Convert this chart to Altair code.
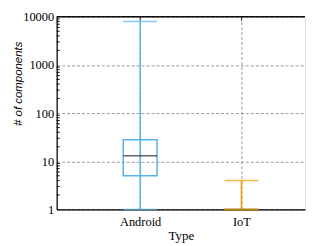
import altair as alt
import pandas as pd

types = ["Android", "IoT"]
lo = [1, 1]
q1 = [5, 1]
med = [13, 1]
q3 = [28, 1]
hi = [8000, 4]
colors = ["#56B4E9", "#E69F00"]

major_ticks = [1, 10, 100, 1000, 10000]
minor_ticks = [m * d for d in [1, 10, 100, 1000] for m in [2, 3, 4, 5, 6, 7, 8, 9]]

df = pd.DataFrame({"Type": types, "lo": lo, "q1": q1, "med": med, "q3": q3, "hi": hi})
minor_df = pd.DataFrame({"v": minor_ticks})

W, H = 250, 194
BOX = 34

xs = alt.X("Type:N", scale=alt.Scale(type="point", padding=0.7255, align=0.5676, domain=types),
           axis=alt.Axis(title="Type", labelFont="Liberation Serif", labelFontSize=12.5,
                         labelColor="#000", labelPadding=6, labelAngle=0, ticks=False,
                         domain=True, domainColor="#000", domainWidth=1.2,
                         grid=True, gridDash=[3, 2], gridColor="#999",
                         titleFont="Liberation Serif", titleFontSize=13,
                         titleFontWeight="normal", titleColor="#000", titlePadding=2))
ysc = alt.Scale(type="log", domain=[1, 10000], nice=False)
col = alt.Color("Type:N", scale=alt.Scale(domain=types, range=colors), legend=None)

base = alt.Chart(df)

whisk = base.mark_rule(strokeWidth=1.5).encode(
    x=xs,
    y=alt.Y("lo:Q", scale=ysc,
            axis=alt.Axis(title="# of components", values=major_ticks, format="d",
                          labelFont="Liberation Serif", labelFontSize=12.5, labelColor="#000",
                          ticks=False, labelPadding=3, domainColor="#000", domainWidth=1.2,
                          grid=True, gridDash=[3, 2], gridColor="#999",
                          titleFont="Liberation Sans", titleFontStyle="italic",
                          titleFontWeight="normal", titleFontSize=11.5, titleColor="#000",
                          titleX=-38, titleY=67, titleAlign="center", titleBaseline="middle")),
    y2="hi:Q",
    color=col,
)
box = base.mark_bar(size=BOX, fill="white", fillOpacity=0, strokeWidth=1.5).encode(
    x="Type:N", y=alt.Y("q1:Q", scale=ysc), y2="q3:Q",
    stroke=alt.Stroke("Type:N", scale=alt.Scale(domain=types, range=colors), legend=None),
)
median = base.mark_tick(size=BOX, thickness=1.5, color="#222").encode(
    x="Type:N", y=alt.Y("med:Q", scale=ysc))
cap_hi = base.mark_tick(size=BOX, thickness=1.5).encode(
    x="Type:N", y=alt.Y("hi:Q", scale=ysc), color=col)
cap_lo = base.mark_tick(size=BOX, thickness=1.5).encode(
    x="Type:N", y=alt.Y("lo:Q", scale=ysc), color=col)

minor = alt.Chart(minor_df).mark_rule(color="#000", strokeWidth=1).encode(
    y=alt.Y("v:Q", scale=ysc), x=alt.value(0), x2=alt.value(3))
toptick = base.mark_rule(color="#333", strokeWidth=1).encode(
    x="Type:N", y=alt.value(0), y2=alt.value(4))
topline = base.mark_rule(color="#000", strokeWidth=1.2).encode(
    x=alt.value(0), x2=alt.value(W), y=alt.value(0))

chart = alt.layer(whisk, box, median, cap_hi, cap_lo, minor, toptick, topline).properties(
    width=W, height=H,
    padding={"left": 4, "top": 2, "right": 0, "bottom": 0},
).configure_view(stroke=None).configure(background="white")

chart.save("out.html", embed_options={"renderer": "svg", "actions": False})
